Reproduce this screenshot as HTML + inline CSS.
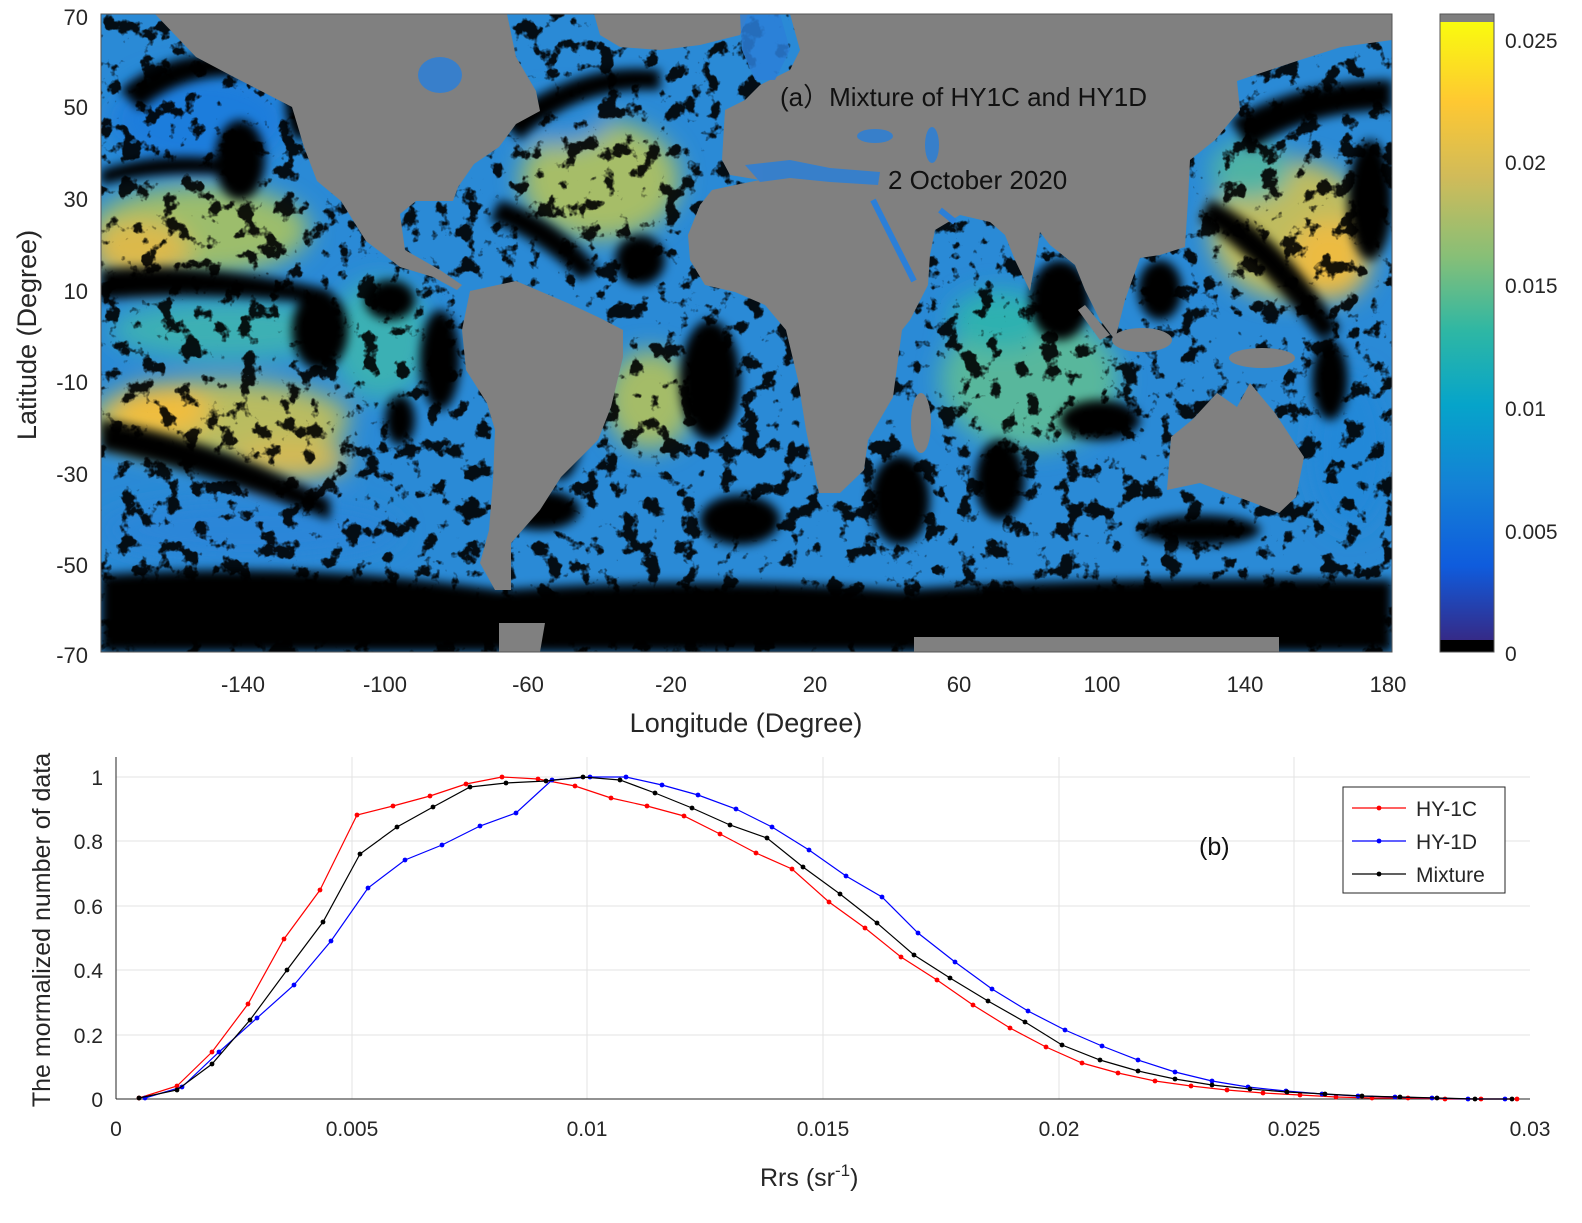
<!DOCTYPE html>
<html><head><meta charset="utf-8"><style>
html,body{margin:0;padding:0;background:#fff;}
body{width:1582px;height:1218px;position:relative;overflow:hidden;font-family:"Liberation Sans",Arial,sans-serif;}
</style></head><body>
<svg width="1582" height="1218" viewBox="0 0 1582 1218" xmlns="http://www.w3.org/2000/svg" font-family="Liberation Sans, Arial, sans-serif">
<defs>
<linearGradient id="parula" x1="0" y1="1" x2="0" y2="0">
<stop offset="0" stop-color="#352a87"/><stop offset="0.12" stop-color="#0f5cdd"/><stop offset="0.25" stop-color="#1481d6"/><stop offset="0.38" stop-color="#06a4ca"/><stop offset="0.5" stop-color="#2eb7a4"/><stop offset="0.62" stop-color="#87bf77"/><stop offset="0.75" stop-color="#d1bb59"/><stop offset="0.87" stop-color="#fec832"/><stop offset="1" stop-color="#f9fb0e"/>
</linearGradient>
<filter id="speck" x="0" y="0" width="100%" height="100%">
<feTurbulence type="fractalNoise" baseFrequency="0.05" numOctaves="4" seed="7"/>
<feColorMatrix type="matrix" values="0 0 0 0 0  0 0 0 0 0  0 0 0 0 0  0 0 0 10 -5.6"/>
</filter>
<filter id="bl"><feGaussianBlur stdDeviation="12"/></filter>
<filter id="bl2"><feGaussianBlur stdDeviation="5"/></filter>
<marker id="mr" markerWidth="6" markerHeight="6" refX="3" refY="3" markerUnits="userSpaceOnUse"><circle cx="3" cy="3" r="2.4" fill="#ff0000"/></marker>
<marker id="mb" markerWidth="6" markerHeight="6" refX="3" refY="3" markerUnits="userSpaceOnUse"><circle cx="3" cy="3" r="2.4" fill="#0000ff"/></marker>
<marker id="mk" markerWidth="6" markerHeight="6" refX="3" refY="3" markerUnits="userSpaceOnUse"><circle cx="3" cy="3" r="2.4" fill="#000"/></marker>
<clipPath id="mapclip"><rect x="101" y="14" width="1291" height="638"/></clipPath>
</defs>

<!-- MAP -->
<g clip-path="url(#mapclip)">
<rect x="101" y="14" width="1291" height="638" fill="#2a8ad6"/>
<g filter="url(#bl)">
<ellipse cx="200" cy="120" rx="90" ry="50" fill="#1f7ddc"/>
<ellipse cx="200" cy="230" rx="110" ry="45" fill="#9cbd6c"/>
<ellipse cx="140" cy="250" rx="50" ry="30" fill="#dcb94c"/>
<ellipse cx="230" cy="330" rx="120" ry="30" fill="#3cb0b4"/>
<ellipse cx="220" cy="420" rx="130" ry="40" fill="#b9bc60"/>
<ellipse cx="160" cy="410" rx="50" ry="25" fill="#f1bd3c"/>
<ellipse cx="290" cy="460" rx="60" ry="20" fill="#d4b954"/>
<ellipse cx="250" cy="530" rx="150" ry="30" fill="#2a86d8"/>
<ellipse cx="380" cy="340" rx="50" ry="60" fill="#3bb0b4"/>
<ellipse cx="600" cy="180" rx="80" ry="60" fill="#a6bd68"/>
<ellipse cx="560" cy="120" rx="50" ry="25" fill="#2a8ad6"/>
<ellipse cx="650" cy="400" rx="45" ry="50" fill="#a4bc68"/>
<ellipse cx="1030" cy="380" rx="90" ry="70" fill="#58b79c"/>
<ellipse cx="1000" cy="320" rx="50" ry="30" fill="#2fb1b0"/>
<ellipse cx="1290" cy="230" rx="80" ry="70" fill="#bfbc5e"/>
<ellipse cx="1330" cy="260" rx="40" ry="40" fill="#ecbb42"/>
<ellipse cx="1250" cy="170" rx="40" ry="30" fill="#4fb3a4"/>
<ellipse cx="1350" cy="450" rx="40" ry="80" fill="#2288d8"/>
</g>
<!-- clouds -->
<g fill="#000" filter="url(#bl2)">
<path d="M101 575 Q300 560 500 590 Q700 575 900 590 Q1100 575 1392 580 L1392 652 L101 652Z"/>
<path d="M101 270 Q200 260 330 290 L330 305 Q200 290 101 300Z"/>
<path d="M101 420 Q220 440 330 500 L330 520 Q200 470 101 450Z"/>
<path d="M120 90 Q180 40 260 60 L270 80 Q190 65 140 110Z"/>
<path d="M101 170 Q160 150 230 160 L230 175 Q160 170 101 185Z"/>
<ellipse cx="240" cy="160" rx="25" ry="40"/>
<ellipse cx="300" cy="100" rx="15" ry="40"/>
<ellipse cx="320" cy="330" rx="28" ry="40"/>
<ellipse cx="390" cy="300" rx="25" ry="20"/>
<ellipse cx="440" cy="360" rx="20" ry="50"/>
<ellipse cx="400" cy="420" rx="15" ry="25"/>
<path d="M500 120 Q580 60 660 70 L660 90 Q580 85 520 140Z"/>
<path d="M500 200 Q560 220 600 270 L580 280 Q540 240 490 220Z"/>
<ellipse cx="640" cy="260" rx="25" ry="25"/>
<ellipse cx="560" cy="430" rx="22" ry="50"/>
<ellipse cx="540" cy="510" rx="40" ry="20"/>
<ellipse cx="710" cy="380" rx="30" ry="60"/>
<ellipse cx="740" cy="520" rx="40" ry="25"/>
<ellipse cx="900" cy="500" rx="30" ry="45"/>
<ellipse cx="1060" cy="300" rx="30" ry="40"/>
<ellipse cx="1100" cy="420" rx="40" ry="20"/>
<ellipse cx="1000" cy="480" rx="25" ry="40"/>
<path d="M1230 120 Q1300 80 1392 80 L1392 110 Q1310 110 1250 150Z"/>
<path d="M1210 200 Q1280 230 1340 330 L1320 340 Q1260 260 1200 220Z"/>
<ellipse cx="1370" cy="200" rx="22" ry="60"/>
<ellipse cx="1330" cy="380" rx="18" ry="40"/>
<ellipse cx="1160" cy="290" rx="22" ry="30"/>
<ellipse cx="1200" cy="530" rx="60" ry="15"/>
</g>
<rect x="101" y="14" width="1291" height="638" fill="#000" filter="url(#speck)" opacity="0.9"/>
<!-- land -->
<g fill="#808080">
<path d="M155 14 L196 57 L230 75 L292 107 L304 147 L317 181 L341 201 L366 241 L400 267 L433 277 L457 290 L462 285 L440 270 L405 250 L400 214 L416 201 L453 201 L458 187 L474 164 L499 147 L516 124 L540 111 L536 91 L516 57 L507 14Z"/>
<path d="M470 291 L462 330 L466 370 L487 403 L495 430 L493 480 L489 530 L480 563 L495 590 L511 590 L511 543 L540 510 L561 477 L598 440 L611 407 L623 357 L623 330 L600 318 L570 304 L516 281Z"/>
<path d="M594 14 L748 14 L740 35 L700 45 L660 50 L620 47 L600 35Z"/>
<path d="M790 14 L1392 14 L1392 40 L1341 47 L1300 60 L1237 81 L1240 110 L1215 140 L1190 160 L1188 200 L1185 247 L1160 255 L1140 258 L1125 300 L1115 340 L1100 320 L1085 290 L1075 265 L1050 245 L1040 232 L1030 291 L1015 260 L1005 235 L990 222 L960 215 L935 230 L930 255 L928 285 L910 320 L902 330 L893 397 L868 440 L864 470 L840 493 L819 493 L806 430 L798 380 L786 330 L765 305 L735 292 L705 285 L690 260 L688 235 L700 205 L712 190 L735 185 L760 180 L730 175 L722 160 L725 110 L745 100 L760 85 L790 70 L800 50Z"/>
<path d="M1171 437 L1167 490 L1200 483 L1254 503 L1279 513 L1296 497 L1304 457 L1275 413 L1250 383 L1237 407 L1217 393 L1192 420Z"/>
<ellipse cx="1262" cy="358" rx="33" ry="10"/>
<ellipse cx="921" cy="423" rx="10" ry="30"/>
<ellipse cx="1142" cy="340" rx="30" ry="12"/>
<path d="M1085 305 L1110 335 L1100 340 L1078 310Z"/>
<path d="M914 637 L1279 637 L1279 652 L914 652Z"/>
<path d="M499 623 L545 623 L540 652 L499 652Z"/>
</g>
<!-- inland seas -->
<g fill="#2b7fd8" opacity="0.85">
<path d="M740 14 L780 14 L790 50 L775 80 L755 80 L742 50Z"/>
<path d="M745 165 L790 160 L830 168 L880 172 L878 185 L830 182 L790 178 L760 182 Z"/>
<ellipse cx="875" cy="136" rx="18" ry="7"/>
<ellipse cx="932" cy="145" rx="7" ry="18"/>
<ellipse cx="440" cy="75" rx="22" ry="18"/>
</g>
<line x1="873" y1="200" x2="914" y2="281" stroke="#2b7fd8" stroke-width="6"/>
<line x1="940" y1="210" x2="955" y2="222" stroke="#2b7fd8" stroke-width="6"/>
</g>
<rect x="101" y="14" width="1291" height="638" fill="none" stroke="#555" stroke-width="1"/>
<!-- map ticks -->
<g font-size="22" fill="#262626" text-anchor="middle">
<text x="243" y="692">-140</text><text x="385" y="692">-100</text><text x="528" y="692">-60</text><text x="671" y="692">-20</text><text x="815" y="692">20</text><text x="959" y="692">60</text><text x="1102" y="692">100</text><text x="1245" y="692">140</text><text x="1388" y="692">180</text>
</g>
<g font-size="22" fill="#262626" text-anchor="end">
<text x="88" y="25">70</text><text x="88" y="115">50</text><text x="88" y="207">30</text><text x="88" y="299">10</text><text x="88" y="390">-10</text><text x="88" y="482">-30</text><text x="88" y="573">-50</text><text x="88" y="663">-70</text>
</g>
<text x="746" y="732" font-size="27" fill="#262626" text-anchor="middle">Longitude (Degree)</text>
<text transform="translate(36,335) rotate(-90)" font-size="27" fill="#262626" text-anchor="middle">Latitude (Degree)</text>
<text x="780" y="106" font-size="26" fill="#111">(a）Mixture of HY1C and HY1D</text>
<text x="888" y="189" font-size="26" fill="#111">2 October 2020</text>
<!-- colorbar -->
<rect x="1440" y="22" width="54" height="618" fill="url(#parula)"/>
<rect x="1440" y="14" width="54" height="8" fill="#7f7f7f"/>
<rect x="1440" y="640" width="54" height="12" fill="#000"/>
<rect x="1440" y="14" width="54" height="638" fill="none" stroke="#555"/>
<g font-size="21" fill="#262626">
<text x="1505" y="48">0.025</text><text x="1505" y="170">0.02</text><text x="1505" y="293">0.015</text><text x="1505" y="416">0.01</text><text x="1505" y="539">0.005</text><text x="1505" y="661">0</text>
</g>

<!-- CHART B -->
<g stroke="#e3e3e3" stroke-width="1">
<line x1="352" y1="757" x2="352" y2="1099"/><line x1="587" y1="757" x2="587" y2="1099"/><line x1="823" y1="757" x2="823" y2="1099"/><line x1="1059" y1="757" x2="1059" y2="1099"/><line x1="1294" y1="757" x2="1294" y2="1099"/>
<line x1="116" y1="777" x2="1530" y2="777"/><line x1="116" y1="841" x2="1530" y2="841"/><line x1="116" y1="906" x2="1530" y2="906"/><line x1="116" y1="970" x2="1530" y2="970"/><line x1="116" y1="1035" x2="1530" y2="1035"/>
</g>
<line x1="116" y1="757" x2="116" y2="1099" stroke="#262626"/>
<line x1="116" y1="1099" x2="1530" y2="1099" stroke="#262626"/>
<g font-size="21" fill="#262626" text-anchor="end">
<text x="103" y="785">1</text><text x="103" y="849">0.8</text><text x="103" y="914">0.6</text><text x="103" y="978">0.4</text><text x="103" y="1043">0.2</text><text x="103" y="1107">0</text>
</g>
<g font-size="21" fill="#262626" text-anchor="middle">
<text x="116" y="1136">0</text><text x="352" y="1136">0.005</text><text x="587" y="1136">0.01</text><text x="823" y="1136">0.015</text><text x="1059" y="1136">0.02</text><text x="1294" y="1136">0.025</text><text x="1530" y="1136">0.03</text>
</g>
<text x="760" y="1186" font-size="25" fill="#262626">Rrs (sr<tspan dy="-10" font-size="17">-1</tspan><tspan dy="10">)</tspan></text>
<text transform="translate(50,930) rotate(-90)" font-size="25" fill="#262626" text-anchor="middle">The mormalized number of data</text>

<polyline fill="none" stroke="#ff0000" stroke-width="1.2" marker-start="url(#mr)" marker-mid="url(#mr)" marker-end="url(#mr)" points="139,1098 177,1086 212,1052 248,1004 284,939 320,890 357,815 393,806 430,796 466,784 502,777 538,779 575,786 611,798 647,806 684,816 720,834 756,853 792,869 829,902 865,928 901,957 937,980 973,1005 1010,1028 1046,1047 1082,1063 1118,1073 1155,1081 1191,1086 1227,1090 1263,1093 1300,1095 1336,1097 1372,1098 1408,1098 1445,1099 1481,1099 1517,1099"/>
<polyline fill="none" stroke="#0000ff" stroke-width="1.2" marker-start="url(#mb)" marker-mid="url(#mb)" marker-end="url(#mb)" points="145,1098 182,1087 219,1052 257,1018 294,985 331,941 368,888 405,860 442,845 480,826 516,813 552,780 590,777 626,777 662,785 698,795 736,809 772,827 809,850 846,876 882,897 918,933 955,962 992,989 1028,1011 1065,1030 1102,1046 1138,1060 1175,1072 1212,1081 1248,1087 1286,1091 1322,1094 1358,1096 1395,1097 1432,1098 1468,1099 1505,1099"/>
<polyline fill="none" stroke="#000" stroke-width="1.2" marker-start="url(#mk)" marker-mid="url(#mk)" marker-end="url(#mk)" points="139,1098 177,1090 212,1064 250,1020 287,970 323,922 360,854 397,827 433,807 470,787 506,783 546,781 583,777 620,780 655,793 692,808 730,825 767,838 803,867 840,894 877,923 914,955 950,978 988,1001 1025,1022 1062,1045 1100,1060 1138,1071 1175,1079 1212,1085 1250,1089 1287,1092 1325,1094 1362,1096 1400,1097 1437,1098 1475,1099 1512,1099"/>

<text x="1199" y="855" font-size="25" fill="#111">(b)</text>
<rect x="1343" y="787" width="162" height="106" fill="#fff" stroke="#262626"/>
<g stroke-width="1.2">
<line x1="1352" y1="808" x2="1406" y2="808" stroke="#f00"/><circle cx="1379" cy="808" r="2.4" fill="#f00"/>
<line x1="1352" y1="841" x2="1406" y2="841" stroke="#00f"/><circle cx="1379" cy="841" r="2.4" fill="#00f"/>
<line x1="1352" y1="874" x2="1406" y2="874" stroke="#000"/><circle cx="1379" cy="874" r="2.4" fill="#000"/>
</g>
<g font-size="21" fill="#262626">
<text x="1416" y="816">HY-1C</text><text x="1416" y="849">HY-1D</text><text x="1416" y="882">Mixture</text>
</g>
</svg>
</body></html>
